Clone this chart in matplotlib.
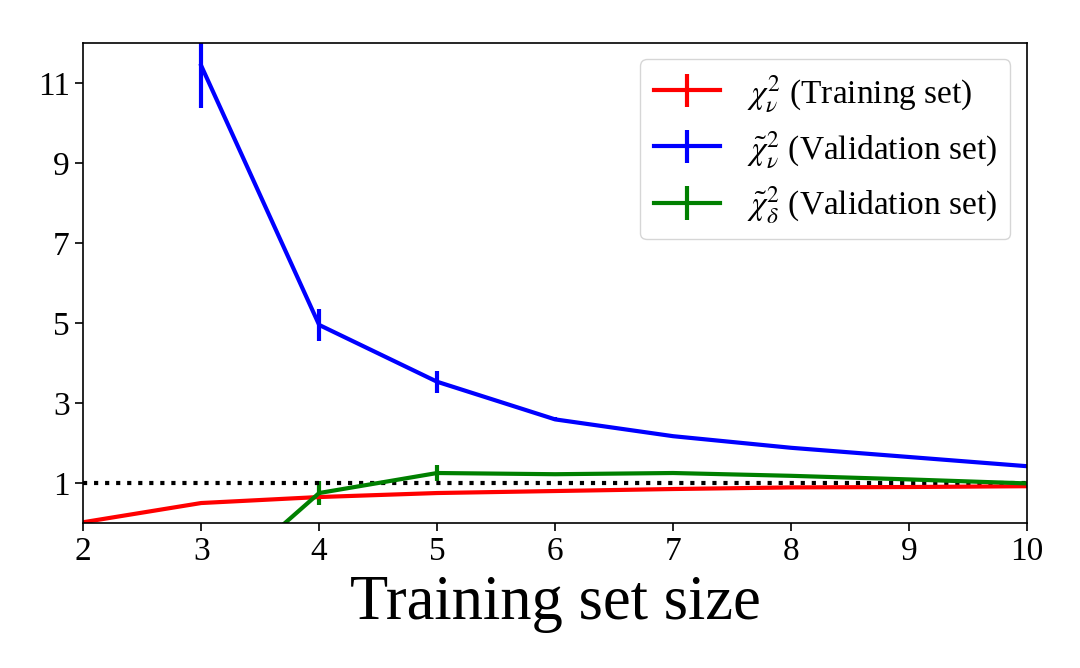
import matplotlib
matplotlib.use("Agg")
import matplotlib.pyplot as plt

plt.rcParams['font.family'] = ['Liberation Serif', 'DejaVu Serif']
plt.rcParams['mathtext.fontset'] = 'stix'

# training set sizes
x_train = [2, 3, 4, 5, 6, 7, 8, 9, 10]
chi_train = [0.02, 0.50, 0.65, 0.75, 0.80, 0.85, 0.89, 0.90, 0.92]
chi_train_err = [0.0, 0.0, 0.0, 0.0, 0.0, 0.0, 0.0, 0.0, 0.0]

x_val = [3, 4, 5, 6, 7, 8, 9, 10]
chi_val = [11.43, 4.95, 3.53, 2.59, 2.17, 1.88, 1.65, 1.42]
chi_val_err = [1.06, 0.40, 0.27, 0.05, 0.04, 0.02, 0.01, 0.01]

chi_delta = [-1.84, 0.75, 1.25, 1.22, 1.25, 1.18, 1.09, 0.99]
chi_delta_err = [0.5, 0.29, 0.21, 0.03, 0.02, 0.01, 0.01, 0.01]

fig = plt.figure(figsize=(10.8, 6.68), dpi=100)
ax = fig.add_axes([0.077, 0.217, 0.874, 0.719])

lw = 3
ax.errorbar(x_train, chi_train, yerr=chi_train_err, color='red', lw=lw, elinewidth=lw,
            label=r'$\chi^2_\nu$ (Training set)')
ax.errorbar(x_val, chi_val, yerr=chi_val_err, color='blue', lw=lw, elinewidth=lw,
            label=r'$\tilde{\chi}^2_\nu$ (Validation set)')
ax.errorbar(x_val, chi_delta, yerr=chi_delta_err, color='green', lw=lw, elinewidth=lw,
            label=r'$\tilde{\chi}^2_\delta$ (Validation set)')
ax.axhline(1, color='black', ls=':', lw=lw)

ax.set_xlim(2, 10)
ax.set_ylim(0, 12)
ax.set_yticks([1, 3, 5, 7, 9, 11])
ax.set_xticks(x_train)
ax.tick_params(labelsize=24, length=6, width=1.2)
for s in ax.spines.values():
    s.set_linewidth(1.2)
ax.set_xlabel('Training set size', fontsize=45, labelpad=6)
ax.legend(loc='upper right', fontsize=24, handlelength=2.0, borderaxespad=0.5,
          labelspacing=0.45)

fig.savefig('out.png', dpi=100)
